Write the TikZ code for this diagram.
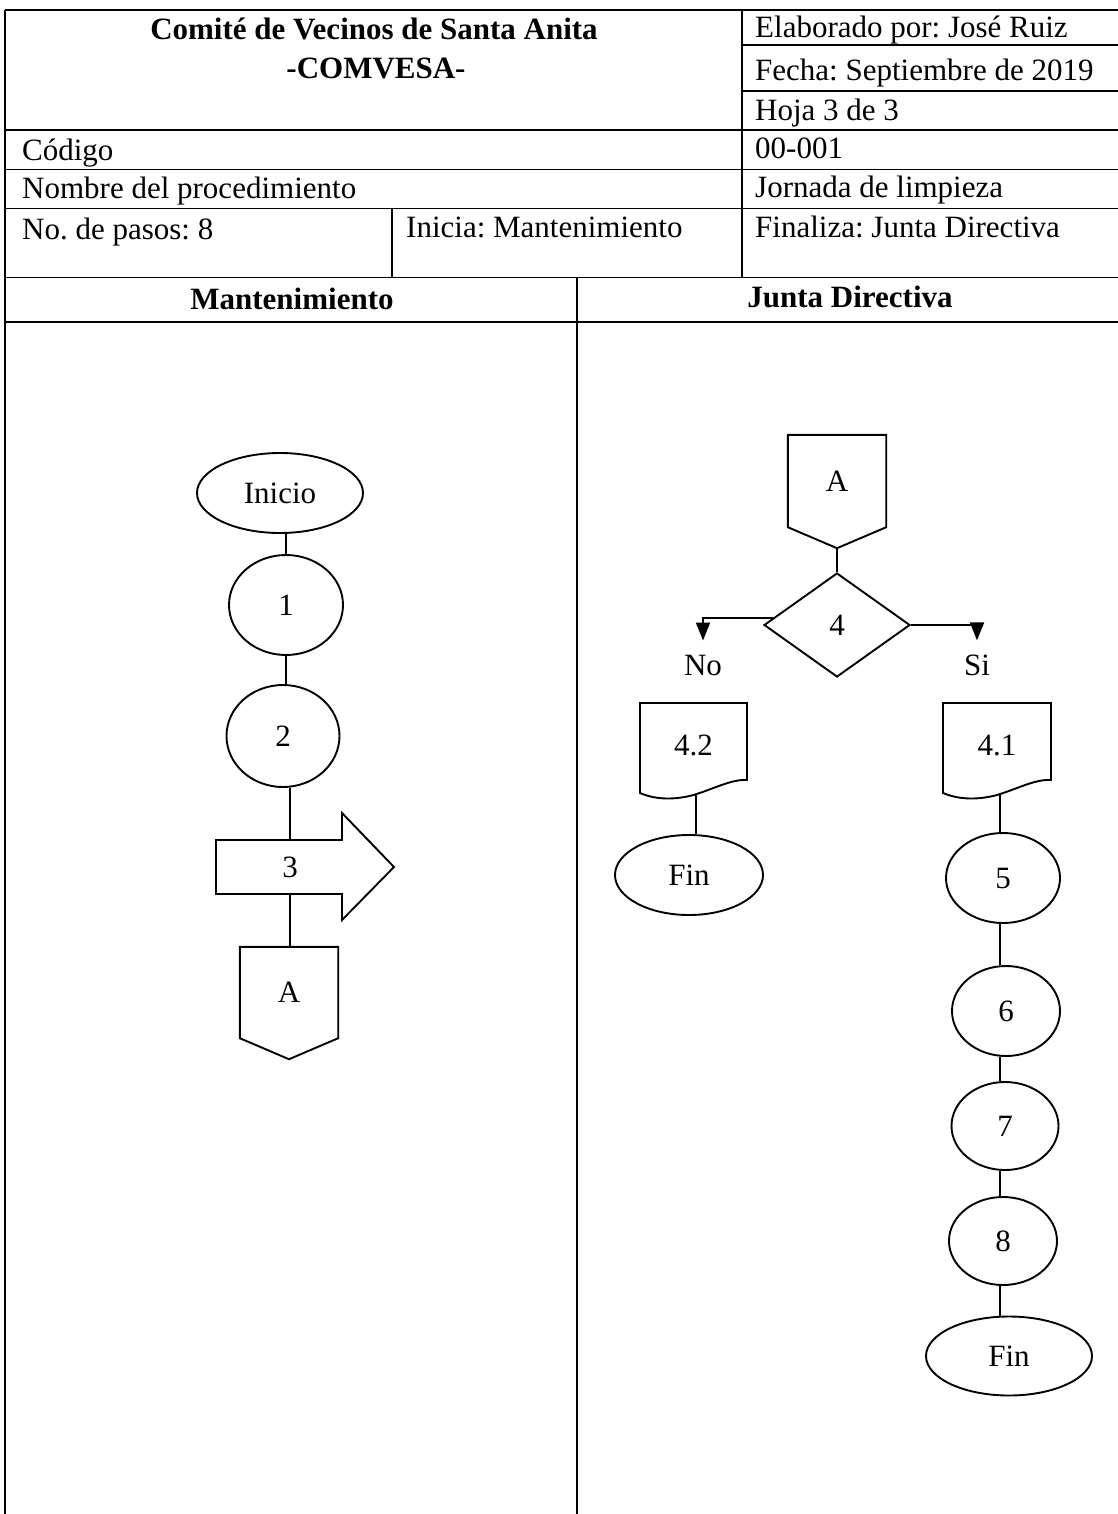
\documentclass[tikz,border=0pt]{standalone}
\usepackage{fontspec}
\setmainfont{Liberation Serif}
\frenchspacing
\usetikzlibrary{shapes.geometric,arrows.meta,calc}
\begin{document}
\begin{tikzpicture}[x=1pt,y=-1pt,
  txt/.style={font=\fontsize{31}{37}\selectfont, inner sep=0pt},
  hdr/.style={txt, anchor=base west},
  ln/.style={line width=1.6pt},
  fl/.style={line width=1.9pt},
  shp/.style={draw, line width=1.9pt, inner sep=0pt, font=\fontsize{31}{37}\selectfont},
  oval/.style={shp, ellipse},
  arr/.style={line width=1.9pt, -{Triangle[length=18pt,width=14pt]}},
  ]
\useasboundingbox (0,0) rectangle (1118,1514);

% ---- table grid ----
\draw[ln] (5,10) -- (1118,10);
\draw[ln] (742,45) -- (1118,45);
\draw[ln] (742,91) -- (1118,91);
\draw[ln] (5,130) -- (1118,130);
\draw[ln] (5,169.5) -- (1118,169.5);
\draw[ln] (5,208.5) -- (1118,208.5);
\draw[ln] (5,277.5) -- (1118,277.5);
\draw[ln] (5,322) -- (1118,322);
\draw[ln] (5,10) -- (5,1514);
\draw[ln] (742,10) -- (742,277.5);
\draw[ln] (392,208.5) -- (392,277.5);
\draw[ln] (577,277.5) -- (577,1514);

% ---- header texts ----
\node[txt, anchor=base] (title) at (374,40) {\bfseries Comité de Vecinos de Santa Anita};
\node[txt, anchor=base] (org) at (376,79) {\bfseries -COMVESA-};
\node[hdr] (elab) at (755,38) {Elaborado por: José Ruiz};
\node[hdr] (fecha) at (755,81) {Fecha: Septiembre de 2019};
\node[hdr] (hoja) at (755,121) {Hoja 3 de 3};
\node[hdr] (cod) at (22,161) {Código};
\node[hdr] (codv) at (755,159) {00-001};
\node[hdr] (nom) at (22,199) {Nombre del procedimiento};
\node[hdr] (nomv) at (755,198) {Jornada de limpieza};
\node[hdr] (pasos) at (22,240) {No. de pasos: 8};
\node[hdr] (ini) at (406,238) {Inicia: Mantenimiento};
\node[hdr] (fina) at (755,238) {Finaliza: Junta Directiva};
\node[txt, anchor=base] (lane1) at (292,309) {\bfseries Mantenimiento};
\node[txt, anchor=base] (lane2) at (850,307) {\bfseries Junta Directiva};

% ---- left lane ----
\node[oval, minimum width=166pt, minimum height=80pt] (inicio) at (280,493) {Inicio};
\node[oval, minimum width=114pt, minimum height=100pt] (c1) at (286,605) {1};
\node[oval, minimum width=113pt, minimum height=102pt] (c2) at (283,736) {2};
\node[txt, minimum height=54pt] (s3) at (290,867) {3};
\draw[fl] ($(s3)+(-74,-27)$) -- ($(s3)+(52,-27)$) -- ($(s3)+(52,-54)$) -- ($(s3)+(104,0)$)
  -- ($(s3)+(52,53)$) -- ($(s3)+(52,27)$) -- ($(s3)+(-74,27)$) -- cycle;
\node[txt, minimum width=98pt, minimum height=91pt] (A1) at (289,992.5) {A};
\coordinate (A1tip) at ($(A1.south)+(0,21)$);
\draw[fl] (A1.north west) -- (A1.north east) -- (A1.south east) -- (A1tip) -- (A1.south west) -- cycle;

\draw[fl] (c1.north) -- (c1.north |- inicio.south);
\draw[fl] (c1.south) -- (c1.south |- c2.north);
\draw[fl] (s3.north) -- (s3.north |- c2.south);
\draw[fl] (s3.south) -- (s3.south |- A1.north);

% ---- right lane ----
\node[txt, minimum width=98pt, minimum height=92pt] (A2) at (837,481) {A};
\coordinate (A2tip) at ($(A2.south)+(0,21)$);
\draw[fl] (A2.north west) -- (A2.north east) -- (A2.south east) -- (A2tip) -- (A2.south west) -- cycle;

\node[shp, diamond, aspect=1.4, minimum width=146pt, minimum height=104pt] (d4) at (837,625) {4};
\draw[fl] (A2tip) -- (d4.north);

\node[txt] (no) at (703,665) {No};
\node[txt] (si) at (977,665) {Si};
\draw[arr] (d4.174) -| ($(no.north)+(0,-14)$);
\draw[arr] (d4.east) -| ($(si.north)+(0,-14)$);

% documents
\node[txt, minimum width=107pt, minimum height=84pt] (d42) at (693.5,745) {4.2};
\draw[fl] ($(d42)+(-53.5,-42)$) -- ($(d42)+(53.5,-42)$) -- ($(d42)+(53.5,35)$)
  .. controls ($(d42)+(38,34)$) and ($(d42)+(20,44)$) .. ($(d42)+(0,50)$)
  .. controls ($(d42)+(-15,54)$) and ($(d42)+(-35,56)$) .. ($(d42)+(-53.5,48)$) -- cycle;
\coordinate (d42b) at ($(d42)+(2.5,50)$);

\node[txt, minimum width=108pt, minimum height=84pt] (d41) at (997,745) {4.1};
\draw[fl] ($(d41)+(-54,-42)$) -- ($(d41)+(54,-42)$) -- ($(d41)+(54,35)$)
  .. controls ($(d41)+(38,34)$) and ($(d41)+(20,44)$) .. ($(d41)+(0,50)$)
  .. controls ($(d41)+(-15,54)$) and ($(d41)+(-35,56)$) .. ($(d41)+(-54,48)$) -- cycle;
\coordinate (d41b) at ($(d41)+(3,50)$);

\node[oval, minimum width=148pt, minimum height=80pt] (fin1) at (689,875) {Fin};
\draw[fl] (d42b) -- (d42b |- fin1.north);

\node[oval, minimum width=114pt, minimum height=90pt] (c5) at (1003,878) {5};
\node[oval, minimum width=108pt, minimum height=90pt] (c6) at (1006,1011) {6};
\node[oval, minimum width=107pt, minimum height=88pt] (c7) at (1005,1126) {7};
\node[oval, minimum width=108pt, minimum height=88pt] (c8) at (1003,1241) {8};
\node[oval, minimum width=166pt, minimum height=79pt] (fin2) at (1009,1356) {Fin};

\draw[fl] (d41b) -- (d41b |- c5.north);
\draw[fl] (d41b |- c5.south) -- (d41b |- c6.north);
\draw[fl] (d41b |- c6.south) -- (d41b |- c7.north);
\draw[fl] (d41b |- c7.south) -- (d41b |- c8.north);
\draw[fl] (d41b |- c8.south) -- (d41b |- fin2.north);
\end{tikzpicture}
\end{document}
